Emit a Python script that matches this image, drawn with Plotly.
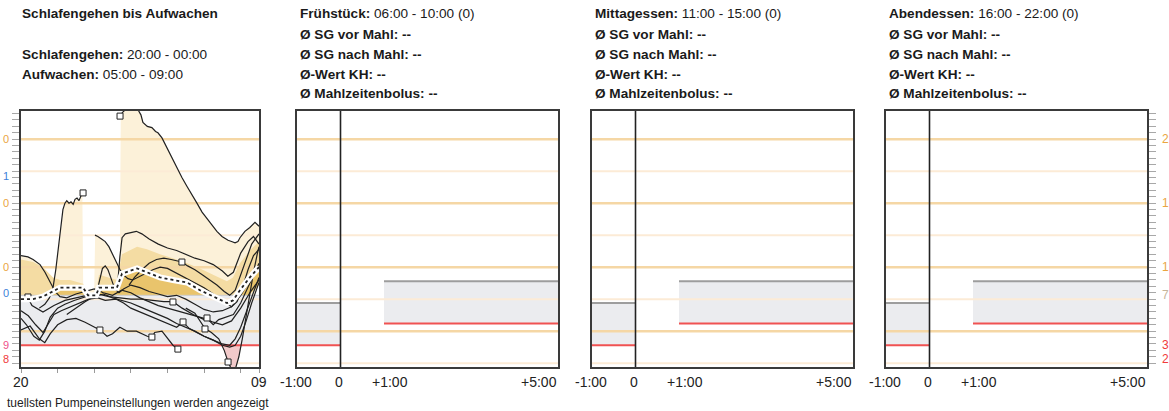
import numpy as np
import plotly.graph_objects as go

FONT = "Liberation Sans, Arial, sans-serif"
W, H = 1169, 411

# ---------------- glucose scale (mmol/L) ----------------
y_range = [2.2, 22.2]
grid_major = [5.0, 10.0, 15.0, 20.0]
grid_minor = [2.5, 7.5, 12.5, 17.5]

# right-hand scale labels (only the leading digit fits on the page)
axis_label_vals = [20.0, 15.0, 10.0, 7.8, 3.9, 2.8]
axis_label_text = ["2", "1", "1", "7", "3", "2"]
axis_label_kind = ["grid", "grid", "grid", "high", "low", "low"]

# left-hand scale labels of the overnight panel (trailing digit only)
sleep_label_vals = [20.0, 17.1, 15.0, 10.0, 8.0, 3.9, 2.8]
sleep_label_text = ["0", "1", "0", "0", "0", "9", "8"]
sleep_label_kind = ["grid", "target", "grid", "grid", "target", "low2", "low"]

# ---------------- overnight window (hours after 20:00) ----------------
sleep_span = [0, 13]
sleep_ticks = [0, 2, 4, 6, 8, 10, 12, 13]
sleep_tick_labels = {0: "20", 13: "09"}
sleep_target = [3.9, 7.8]

# median / quartiles of the overnight sensor glucose
stat_t = [0.0, 0.66, 1.2, 1.75, 2.13, 2.68, 3.39, 3.66, 4.1, 4.26, 5.24, 5.52,
          6.34, 6.88, 7.59, 8.3, 9.07, 9.78, 10.49, 11.25, 11.58, 11.96, 12.5, 13.0]
median_v = [7.5, 7.5, 7.7, 8.1, 8.4, 8.4, 8.4, 7.8, 7.8, 8.4, 8.4, 9.5,
            9.9, 9.6, 9.2, 9.0, 8.8, 8.2, 7.7, 7.2, 7.4, 8.2, 9.2, 10.0]
q75_v = [10.6, 10.4, 10.0, 9.2, 9.0, 9.0, 8.7, 8.0, 8.0, 9.4, 9.0, 11.0,
         11.6, 11.4, 11.0, 10.7, 10.3, 9.9, 9.4, 8.9, 9.2, 10.3, 11.3, 12.0]
q25_v = [6.2, 6.0, 6.3, 6.8, 7.0, 7.1, 7.2, 7.0, 7.0, 7.3, 7.4, 7.6,
         7.6, 7.5, 7.4, 7.3, 7.0, 6.6, 6.2, 5.8, 6.0, 6.9, 7.9, 8.6]

# individual nights: (hour, mmol/L)
sg_night_1 = [(5.41, 21.8), (5.55, 22.1), (5.7, 22.3), (5.84, 22.5), (6.1, 22.5), (6.39, 22.3),
              (6.55, 21.9), (6.66, 21.3), (6.9, 21.0), (7.15, 20.9), (7.35, 20.6), (7.48, 20.5),
              (7.7, 20.1), (7.97, 19.3), (8.25, 18.5), (8.52, 17.8), (8.79, 17.0), (9.07, 16.3),
              (9.34, 15.6), (9.61, 15.0), (9.89, 14.3), (10.16, 13.8), (10.43, 13.3), (10.7, 12.8),
              (10.98, 12.4), (11.31, 12.1), (11.5, 12.0), (11.69, 11.9), (11.85, 12.0), (11.96, 12.3),
              (12.23, 12.8), (12.5, 13.1), (12.78, 13.5), (13.0, 13.2)]
sg_night_2 = [(1.0, 6.8), (1.3, 7.1), (1.55, 7.6), (1.75, 8.4), (1.9, 9.8), (2.02, 11.3),
              (2.13, 12.3), (2.29, 14.5), (2.4, 15.0), (2.5, 15.2), (2.62, 15.0), (2.73, 15.1),
              (2.85, 14.9), (2.95, 15.3), (3.06, 15.4), (3.17, 15.2), (3.28, 15.6), (3.39, 15.8)]
sg_night_3 = [(4.04, 12.5), (4.2, 12.4), (4.4, 12.2), (4.6, 12.0), (4.8, 11.6), (5.0, 11.0),
              (5.2, 10.4), (5.41, 9.8), (5.6, 9.4), (5.84, 9.1), (6.1, 9.0), (6.4, 9.2),
              (6.8, 9.5), (7.2, 9.8), (7.6, 10.0), (8.0, 9.9), (8.4, 9.6), (8.8, 9.3),
              (9.2, 9.0), (9.6, 8.7), (10.0, 8.4), (10.4, 8.0), (10.8, 7.6), (11.2, 7.2),
              (11.5, 6.9), (11.8, 7.3), (12.1, 8.4), (12.4, 9.8), (12.7, 10.9), (13.0, 11.4)]
sg_night_4 = [(4.15, 8.1), (4.3, 9.0), (4.45, 9.9), (4.6, 10.1), (4.75, 9.8), (4.9, 9.2),
              (5.05, 8.6), (5.2, 8.2), (5.35, 8.0), (5.6, 8.3), (6.0, 8.6), (6.5, 8.4),
              (7.0, 8.1), (7.5, 7.9), (8.0, 7.7), (8.5, 7.8), (9.0, 7.5), (9.5, 7.1),
              (10.0, 6.7), (10.5, 6.5), (11.0, 6.6), (11.5, 6.9), (12.0, 7.8), (12.5, 9.0),
              (13.0, 9.8)]
sg_night_5 = [(5.2, 8.2), (5.3, 9.0), (5.4, 10.8), (5.52, 12.3), (5.7, 12.6), (6.0, 12.7),
              (6.3, 12.8), (6.6, 12.6), (7.0, 12.2), (7.5, 11.8), (8.0, 11.5), (8.5, 11.3),
              (9.0, 11.0), (9.5, 10.7), (10.0, 10.5), (10.5, 10.2), (11.0, 9.7), (11.3, 9.3),
              (11.6, 9.6), (12.0, 11.1), (12.4, 12.0), (12.7, 12.4), (13.0, 11.8)]
sg_night_6 = [(5.9, 8.6), (6.2, 9.2), (6.6, 9.8), (7.0, 10.3), (7.4, 10.6), (7.8, 10.7),
              (8.2, 10.6), (8.5, 10.5), (8.79, 10.4), (9.1, 10.1), (9.5, 9.8), (9.9, 9.4),
              (10.3, 9.0), (10.7, 8.6), (11.1, 8.1), (11.4, 7.8), (11.7, 8.2), (12.0, 9.4),
              (12.3, 10.7), (12.6, 11.8), (13.0, 12.6)]
sg_night_7 = [(0.0, 10.9), (0.38, 10.8), (0.66, 10.6), (1.04, 10.2), (1.31, 9.6), (1.58, 8.9),
              (1.86, 8.1), (2.13, 7.7), (2.5, 7.6), (3.0, 7.9), (3.5, 8.1), (4.0, 8.3),
              (4.5, 8.0), (5.0, 7.8), (5.5, 8.2), (6.0, 8.0), (6.5, 7.6), (7.0, 7.3),
              (7.5, 7.0), (8.0, 6.8), (8.5, 6.6), (9.0, 6.4), (9.5, 6.2), (10.0, 6.0),
              (10.5, 5.7), (11.0, 5.5), (11.5, 5.8), (12.0, 6.8), (12.5, 8.0), (13.0, 9.0)]
sg_night_8 = [(0.0, 6.6), (0.4, 6.2), (0.8, 5.5), (1.2, 4.9), (1.5, 5.6), (1.8, 6.3),
              (2.2, 6.6), (2.7, 6.9), (3.2, 7.2), (3.7, 7.5), (4.2, 7.6), (4.6, 7.4),
              (5.2, 7.5), (5.6, 7.2), (6.0, 6.8), (6.5, 6.5), (7.0, 6.2), (7.5, 5.9),
              (8.0, 5.6), (8.5, 5.3), (8.85, 5.7), (9.2, 5.2), (9.6, 4.9), (10.0, 4.6),
              (10.5, 4.3), (11.0, 4.0), (11.4, 3.9), (11.7, 4.4), (12.0, 5.3), (12.4, 6.8),
              (12.8, 8.3), (13.0, 9.2)]
sg_night_9 = [(0.0, 5.1), (0.5, 5.4), (1.0, 4.4), (1.3, 4.1), (1.6, 4.8), (2.0, 5.5),
              (2.5, 5.9), (3.0, 6.0), (3.5, 5.7), (4.0, 5.3), (4.31, 5.1), (4.7, 4.6),
              (5.0, 4.8), (5.4, 5.3), (5.8, 5.0), (6.3, 5.0), (6.9, 4.6), (7.15, 4.5),
              (7.3, 4.9), (7.7, 5.0), (8.0, 4.4), (8.3, 3.9), (8.57, 3.6)]
sg_night_10 = [(2.5, 6.3), (3.0, 6.8), (3.5, 7.3), (4.0, 7.7), (4.5, 7.9), (5.0, 7.6),
               (5.5, 7.4), (6.0, 7.2), (6.5, 6.9), (7.0, 6.6), (7.5, 6.3), (8.0, 6.0),
               (8.5, 5.6), (9.0, 5.3), (9.5, 5.0), (10.0, 4.6), (10.5, 4.3), (11.0, 3.9),
               (11.4, 3.75), (11.7, 3.9), (12.0, 4.6), (12.3, 5.8), (12.6, 7.2), (13.0, 8.8)]
sg_night_11 = [(0.0, 7.6), (0.38, 7.6), (0.6, 7.0), (1.2, 6.5), (1.8, 7.0), (2.4, 7.4),
               (3.0, 7.6), (3.6, 7.8), (4.2, 7.9), (4.8, 7.7), (5.4, 7.6), (6.0, 7.5),
               (6.6, 7.5), (7.2, 7.4), (7.8, 7.3), (8.3, 7.3), (8.8, 6.8), (9.4, 6.3),
               (10.0, 5.9), (10.16, 6.0), (10.5, 5.5), (10.8, 5.9), (11.2, 6.1), (11.6, 6.3),
               (12.0, 7.2), (12.5, 8.8), (13.0, 10.3)]
sg_night_12 = [(9.0, 6.8), (9.5, 6.4), (10.05, 5.2), (10.4, 4.9), (10.8, 4.4), (11.1, 3.5),
               (11.31, 2.6), (11.5, 2.0), (11.7, 2.0), (11.9, 3.0), (12.1, 4.5), (12.3, 6.2),
               (12.5, 8.0), (12.7, 9.6), (12.9, 11.0), (13.0, 11.6)]
sg_night_13 = [(0.0, 6.0), (0.3, 5.5), (0.7, 4.6), (1.0, 4.3), (1.3, 5.0), (1.6, 6.1),
               (2.0, 6.8), (2.4, 7.1), (2.9, 7.4), (3.4, 7.6), (4.0, 7.9)]
sg_nights = [sg_night_1, sg_night_2, sg_night_3, sg_night_4, sg_night_5, sg_night_6,
             sg_night_7, sg_night_8, sg_night_9, sg_night_10, sg_night_11, sg_night_12,
             sg_night_13]

# event markers (hour, mmol/L)
event_t = [5.41, 3.39, 8.79, 8.3, 0.38, 4.31, 8.85, 7.15, 8.57, 10.16, 10.05, 11.31]
event_v = [21.8, 15.8, 10.4, 7.28, 7.67, 5.09, 5.72, 4.54, 3.6, 6.03, 5.17, 2.59]

# ---------------- meal windows ----------------
meal_names = ["Frühstück", "Mittagessen", "Abendessen"]
meal_windows = ["06:00 - 10:00", "11:00 - 15:00", "16:00 - 22:00"]
meal_counts = [0, 0, 0]
meal_stats = ["Ø SG vor Mahl: --", "Ø SG nach Mahl: --", "Ø-Wert KH: --", "Ø Mahlzeitenbolus: --"]
meal_span = [-1, 5]
meal_tick_vals = [-1, 0, 1, 5]
meal_tick_text = ["-1:00", "0", "+1:00", "+5:00"]
pre_meal_span = [-1, 0]
post_meal_span = [1, 5]
pre_meal_target = [3.9, 7.2]
post_meal_target = [5.6, 8.9]

sleep_title = "Schlafengehen bis Aufwachen"
sleep_lines = [("Schlafengehen:", "20:00 - 00:00"), ("Aufwachen:", "05:00 - 09:00")]
footer_note = "tuellsten Pumpeneinstellungen werden angezeigt"

# ---------------- styling ----------------
C_MAJOR = "#f5d7a5"
C_MINOR = "#fcebd6"
C_BAND = "#ebecef"
C_RED = "#f05252"
C_BORDER = "#3a3a3a"
C_ENV = "#fcf1d9"
C_UPPER = "#f4dca3"
C_LOWER = "#e9c46c"
C_PINK = "#f2caca"
LABEL_COLORS = {"grid": "#eaa53f", "high": "#c6b59a", "low": "#f03a3a",
                "low2": "#f0508a", "target": "#3d7fd9"}
HEAD_SIZE = 13.6

panel_px = [(21, 259), (297, 558), (592, 853), (886, 1147)]
plot_top, plot_bottom = 111, 367
AX = [("x", "y"), ("x2", "y2"), ("x3", "y3"), ("x4", "y4")]

fig = go.Figure()


def add(i, **kw):
    xa, ya = AX[i]
    kw.setdefault("mode", "lines")
    kw.setdefault("hoverinfo", "skip")
    fig.add_trace(go.Scatter(xaxis=xa, yaxis=ya, showlegend=False, **kw))


def hlines(vals, x0, x1):
    xs, ys = [], []
    for v in vals:
        xs += [x0, x1, None]
        ys += [v, v, None]
    return xs, ys


def rect(x0, x1, y0, y1):
    return [x0, x1, x1, x0, x0], [y0, y0, y1, y1, y0]


# ---------- overnight panel ----------
grid_t = np.round(np.arange(0, 13.0001, 0.05), 3)
stack = []
for night in sg_nights:
    ts = [p[0] for p in night]
    vs = [p[1] for p in night]
    stack.append(np.interp(grid_t, ts, vs, left=np.nan, right=np.nan))
stack = np.array(stack)
env_max = np.nanmax(stack, axis=0)
env_min = np.nanmin(stack, axis=0)

# range of all nights
add(0, x=grid_t, y=env_min, line=dict(width=0))
add(0, x=grid_t, y=env_max, line=dict(width=0), fill="tonexty", fillcolor=C_ENV)
# median to 75th percentile
add(0, x=stat_t, y=median_v, line=dict(width=0))
add(0, x=stat_t, y=q75_v, line=dict(width=0), fill="tonexty", fillcolor=C_UPPER)
# 25th percentile to median
add(0, x=stat_t, y=q25_v, line=dict(width=0))
add(0, x=stat_t, y=median_v, line=dict(width=0), fill="tonexty", fillcolor=C_LOWER)
# target range
bx, by = rect(sleep_span[0], sleep_span[1], sleep_target[0], sleep_target[1])
add(0, x=bx, y=by, fill="toself", fillcolor=C_BAND, line=dict(width=0))
add(0, x=sleep_span, y=[sleep_target[1]] * 2, line=dict(color="#cbcbcd", width=1))
gx, gy = hlines(grid_minor, *sleep_span)
add(0, x=gx, y=gy, line=dict(color=C_MINOR, width=2))
gx, gy = hlines(grid_major, *sleep_span)
add(0, x=gx, y=gy, line=dict(color=C_MAJOR, width=2.5))
# below target
add(0, x=grid_t, y=np.full_like(grid_t, sleep_target[0]), line=dict(width=0))
add(0, x=grid_t, y=np.minimum(np.nan_to_num(env_min, nan=sleep_target[0]), sleep_target[0]),
    line=dict(width=0), fill="tonexty", fillcolor=C_PINK)
add(0, x=sleep_span, y=[sleep_target[0]] * 2, line=dict(color=C_RED, width=2))
# nightly traces
for night in sg_nights:
    add(0, x=[p[0] for p in night], y=[p[1] for p in night],
        line=dict(color="#202020", width=1.2))
add(0, x=event_t, y=event_v, mode="markers",
    marker=dict(symbol="square", size=6, color="white", line=dict(color="#222", width=1)))
# median
add(0, x=stat_t, y=median_v, line=dict(color="white", width=6))
add(0, x=stat_t, y=median_v, line=dict(color="#222", width=1.8, dash="dot"))

# ---------- meal panels ----------
for i in range(1, 4):
    px, py = rect(pre_meal_span[0], pre_meal_span[1], *pre_meal_target)
    add(i, x=px, y=py, fill="toself", fillcolor=C_BAND, line=dict(width=0))
    px, py = rect(post_meal_span[0], post_meal_span[1], *post_meal_target)
    add(i, x=px, y=py, fill="toself", fillcolor=C_BAND, line=dict(width=0))
    gx, gy = hlines(grid_minor, *meal_span)
    add(i, x=gx, y=gy, line=dict(color=C_MINOR, width=2))
    gx, gy = hlines(grid_major, *meal_span)
    add(i, x=gx, y=gy, line=dict(color=C_MAJOR, width=2.5))
    add(i, x=pre_meal_span + [None] + post_meal_span,
        y=[pre_meal_target[1]] * 2 + [None] + [post_meal_target[1]] * 2,
        line=dict(color="#9d9d9d", width=2))
    add(i, x=pre_meal_span + [None] + post_meal_span,
        y=[pre_meal_target[0]] * 2 + [None] + [post_meal_target[0]] * 2,
        line=dict(color=C_RED, width=2))
    add(i, x=[0, 0], y=y_range, line=dict(color="#222", width=1.6))

# ---------- axes ----------
layout = dict(width=W, height=H, margin=dict(l=0, r=0, t=0, b=0, pad=0),
              paper_bgcolor="white", plot_bgcolor="white", showlegend=False,
              font=dict(family=FONT, color="#222", size=12))
y_dom = [(H - plot_bottom) / H, (H - plot_top) / H]
for i, (a, b) in enumerate(panel_px):
    n = "" if i == 0 else str(i + 1)
    xa = dict(domain=[a / W, b / W], anchor="y" + n,
              range=sleep_span if i == 0 else meal_span,
              showgrid=False, zeroline=False, showline=True, mirror=True,
              linecolor=C_BORDER, linewidth=1.5, showticklabels=False, fixedrange=True)
    if i == 0:
        xa.update(ticks="outside", ticklen=4, tickwidth=1, tickcolor="#9a9a9a",
                  tickmode="array", tickvals=sleep_ticks)
    ya = dict(domain=y_dom, anchor="x" + n, range=y_range, showgrid=False, zeroline=False,
              showline=True, mirror=True, linecolor=C_BORDER, linewidth=1.5,
              showticklabels=False, fixedrange=True)
    if i in (0, 3):
        ya.update(ticks="outside", ticklen=7, tickwidth=1, tickcolor="#a8a8a8",
                  tick0=0, dtick=0.5)
    if i == 3:
        ya.update(side="right")
    layout["xaxis" + n] = xa
    layout["yaxis" + n] = ya
fig.update_layout(**layout)

# ---------- text ----------
ann = []


def text(x, y, s, size=HEAD_SIZE, color="#1a1a1a", xanchor="left", xref="paper", yref="paper", **kw):
    ann.append(dict(x=x, y=y, xref=xref, yref=yref, text=s, showarrow=False,
                    xanchor=xanchor, yanchor="middle",
                    font=dict(family=FONT, size=size, color=color), **kw))


hx = 20 / W
text(hx, 1 - 14 / H, "<b>%s</b>" % sleep_title)
for k, (lab, val) in enumerate(sleep_lines):
    text(hx, 1 - (54 + 20 * k) / H, "<b>%s</b> %s" % (lab, val))

for m in range(3):
    x0 = (panel_px[m + 1][0] + 1) / W
    text(x0, 1 - 14 / H, "<b>%s:</b> %s (%d)" % (meal_names[m], meal_windows[m], meal_counts[m]))
    for k, s in enumerate(meal_stats):
        text(x0, 1 - (34 + 20 * k) / H, "<b>%s</b>" % s)

# x tick labels
ylab = 1 - 382 / H
for v, s in sleep_tick_labels.items():
    text(v, ylab, s, size=14, color="#222", xanchor="center", xref="x")
meal_label_shift = [-1, -2, 6, -19]
for i in range(1, 4):
    for v, s, sh in zip(meal_tick_vals, meal_tick_text, meal_label_shift):
        text(v, ylab, s, size=14, color="#222", xanchor="center", xref="x%d" % (i + 1), xshift=sh)

# glucose labels (outer edges)
for v, s, k in zip(axis_label_vals, axis_label_text, axis_label_kind):
    text(1160 / W, v, s, size=12, color=LABEL_COLORS[k], yref="y4")
for v, s, k in zip(sleep_label_vals, sleep_label_text, sleep_label_kind):
    text(11 / W, v, s, size=11, color=LABEL_COLORS[k], xanchor="right", yref="y")

text(5 / W, 1 - 403 / H, footer_note, size=12, color="#222")

fig.update_layout(annotations=ann)
fig.write_html("out.html")
